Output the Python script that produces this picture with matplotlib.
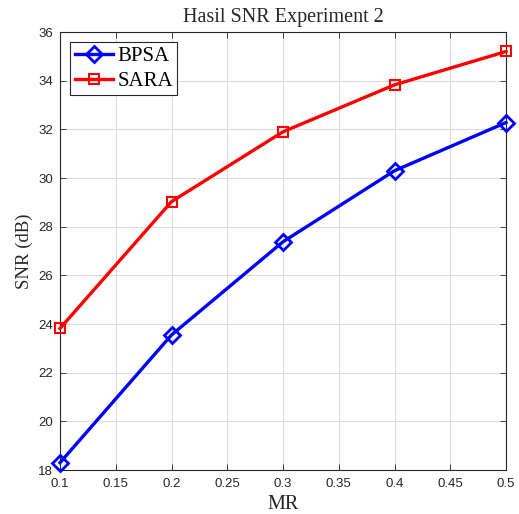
import matplotlib
matplotlib.use('Agg')
import matplotlib.pyplot as plt

mr = [0.1, 0.2, 0.3, 0.4, 0.5]
bpsa = [18.3, 23.55, 27.38, 30.3, 32.28]
sara = [23.82, 29.03, 31.9, 33.83, 35.2]

xticks = [0.1, 0.15, 0.2, 0.25, 0.3, 0.35, 0.4, 0.45, 0.5]
xticklabels = ['0.1', '0.15', '0.2', '0.25', '0.3', '0.35', '0.4', '0.45', '0.5']
yticks = [18, 20, 22, 24, 26, 28, 30, 32, 34, 36]

serif = 'Liberation Serif'

fig = plt.figure(figsize=(5.19, 5.14), dpi=100)
ax = fig.add_axes([0.1156, 0.0856, 0.8594, 0.8521])

ax.plot(mr, bpsa, color='#0000ff', lw=2.4, marker='D', ms=8.5, mfc='none', mew=2,
        label='BPSA', clip_on=False, zorder=3)
ax.plot(mr, sara, color='#ff0000', lw=2.4, marker='s', ms=7.5, mfc='none', mew=1.5,
        label='SARA', clip_on=False, zorder=3)

ax.set_xlim(0.1, 0.5)
ax.set_ylim(18, 36)
ax.set_xticks(xticks)
ax.set_xticklabels(xticklabels)
ax.set_yticks(yticks)
ax.grid(True, color='#dcdcdc', lw=0.8)
ax.set_axisbelow(True)
ax.tick_params(direction='in', top=True, right=True, labelsize=9.5, colors='#262626',
               length=4, width=0.6)
ax.tick_params(axis='x', pad=6)
ax.tick_params(axis='y', pad=5)
for t in ax.get_xticklabels() + ax.get_yticklabels():
    t.set_fontfamily('Liberation Sans')
    t.set_color('#262626')
for s in ax.spines.values():
    s.set_color('#262626')
    s.set_linewidth(0.8)

ax.set_title('Hasil SNR Experiment 2', fontfamily=serif, fontsize=14.5, color='#262626', pad=7)
ax.set_xlabel('MR', fontfamily=serif, fontsize=14.5, color='#262626', labelpad=3)
ax.set_ylabel('SNR (dB)', fontfamily=serif, fontsize=13.5, color='#262626', labelpad=4)

leg = ax.legend(loc='upper left', prop={'family': serif, 'size': 15}, fancybox=False,
                edgecolor='#262626', framealpha=1, handlelength=1.85, borderpad=0.2,
                labelspacing=0.25, handletextpad=0.2, borderaxespad=0.5)
leg.get_frame().set_linewidth(0.8)

fig.savefig('out.png', dpi=100)
